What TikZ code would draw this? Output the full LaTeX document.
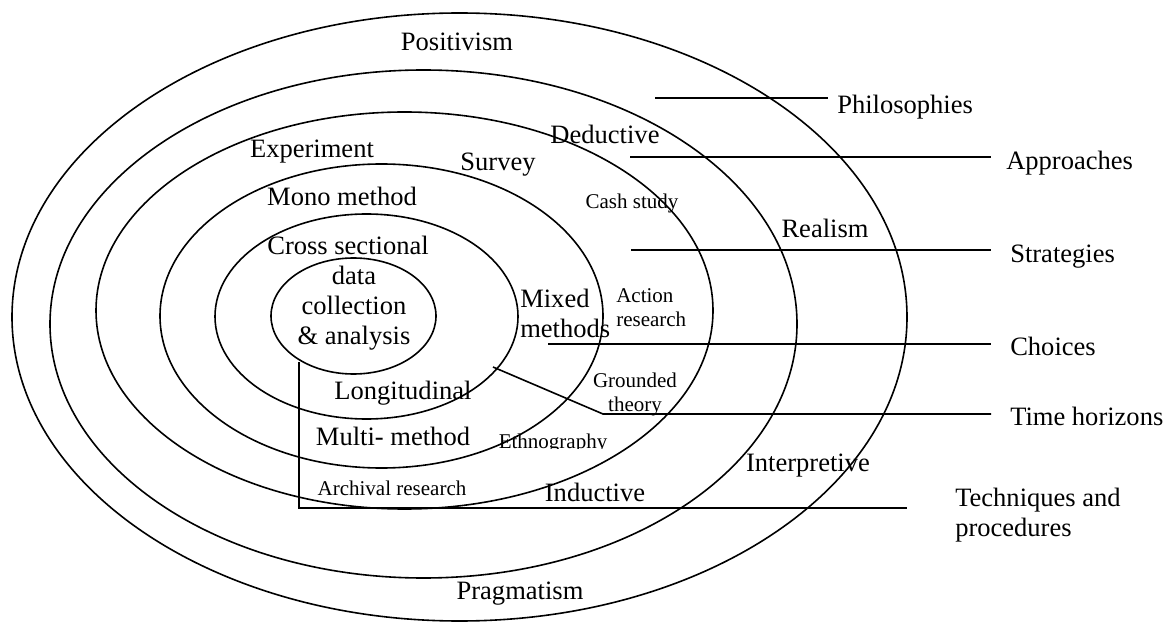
\documentclass[tikz,border=0pt]{standalone}
\usepackage{fontspec}
\setmainfont{Liberation Serif}
\begin{document}
\begin{tikzpicture}[x=0.75pt,y=-0.75pt,
  ring/.style={draw=black,line width=1.2pt},
  lead/.style={draw=black,line width=1.2pt},
  big/.style={inner sep=0pt,font=\fontsize{19.9}{22.5}\selectfont},
  small/.style={inner sep=0pt,font=\fontsize{15.75}{18}\selectfont},
  bigline/.style={big,text height=13.13pt,text depth=0pt},
  smallline/.style={small,text height=10.4pt,text depth=0pt},
]
\useasboundingbox (0,0) rectangle (1170,623);

% concentric layers, outermost first
\draw[ring] (459.5,317)   ellipse [x radius=447.5, y radius=304];
\draw[ring] (423.5,324)   ellipse [x radius=373.5, y radius=254];
\draw[ring] (404.5,310.5) ellipse [x radius=308.5, y radius=198.5];
\draw[ring] (381.5,316)   ellipse [x radius=221.5, y radius=152];
\draw[ring] (366.5,316.5) ellipse [x radius=151.5, y radius=102.5];
\draw[ring] (353.5,316)   ellipse [x radius=82.5,  y radius=58];

% labels inside the layers
\node[bigline] (positivism) at (457,42) {Positivism};
\node[bigline] (deductive) at (605,135) {Deductive};
\node[bigline] (experiment) at (312,149) {Experiment};
\node[bigline] (survey) at (498,162) {Survey};
\node[bigline] (mono) at (342,197) {Mono method};
\node[smallline] (cash) at (632,202) {Cash study};
\node[bigline] (realism) at (825,229) {Realism};
\node[bigline] (cross) at (348,246) {Cross sectional};
\node[big,align=center] (dca) at (354,308.6) {data\\collection\\\& analysis};
\node[big,align=left,anchor=west] (mixed) at (520,313.7) {Mixed\\methods};
\node[small,align=left,anchor=west] (action) at (616,307.8) {Action\\research};
\node[small,align=center] (grounded) at (635,394) {Grounded\\theory};
\node[bigline] (longitudinal) at (403,391) {Longitudinal};
\node[bigline] (multi) at (393,437) {Multi- method};
\begin{scope}
  \clip (480,420) rectangle (640,448.5);
  \node[smallline] (ethno) at (553,442) {Ethnography};
\end{scope}
\node[bigline] (interpretive) at (808,463) {Interpretive};
\node[smallline] (archival) at (392,489) {Archival research};
\node[bigline] (inductive) at (595,493) {Inductive};
\node[bigline] (pragmatism) at (520,591) {Pragmatism};

% layer names on the right
\node[bigline,anchor=west] (philosophies) at (837,105) {Philosophies};
\node[bigline,anchor=west] (approaches) at (1006,161) {Approaches};
\node[bigline,anchor=west] (strategies) at (1010,254) {Strategies};
\node[bigline,anchor=west] (choices) at (1010,347) {Choices};
\node[bigline,anchor=west] (timeh) at (1010,417) {Time horizons};
\node[big,align=left,anchor=west] (techniques) at (955,515.6) {Techniques and\\procedures};

% leader lines
\coordinate (phA) at (655,98);   \coordinate (phB) at (828,98);
\coordinate (apA) at (630,157);  \coordinate (apB) at (991,157);
\coordinate (stA) at (631,250);  \coordinate (stB) at (991,250);
\coordinate (chA) at (548,344);  \coordinate (chB) at (991,344);
\coordinate (thA) at (493,367);  \coordinate (thK) at (603,414); \coordinate (thB) at (991,414);
\coordinate (tpA) at (299,362);  \coordinate (tpK) at (299,508); \coordinate (tpB) at (907,508);

\draw[lead] (phA) -- (phB);
\draw[lead] (apA) -- (apB);
\draw[lead] (stA) -- (stB);
\draw[lead] (chA) -- (chB);
\draw[lead] (thA) -- (thK) -- (thB);
\draw[lead] (tpA) -- (tpK) -- (tpB);
\end{tikzpicture}
\end{document}
